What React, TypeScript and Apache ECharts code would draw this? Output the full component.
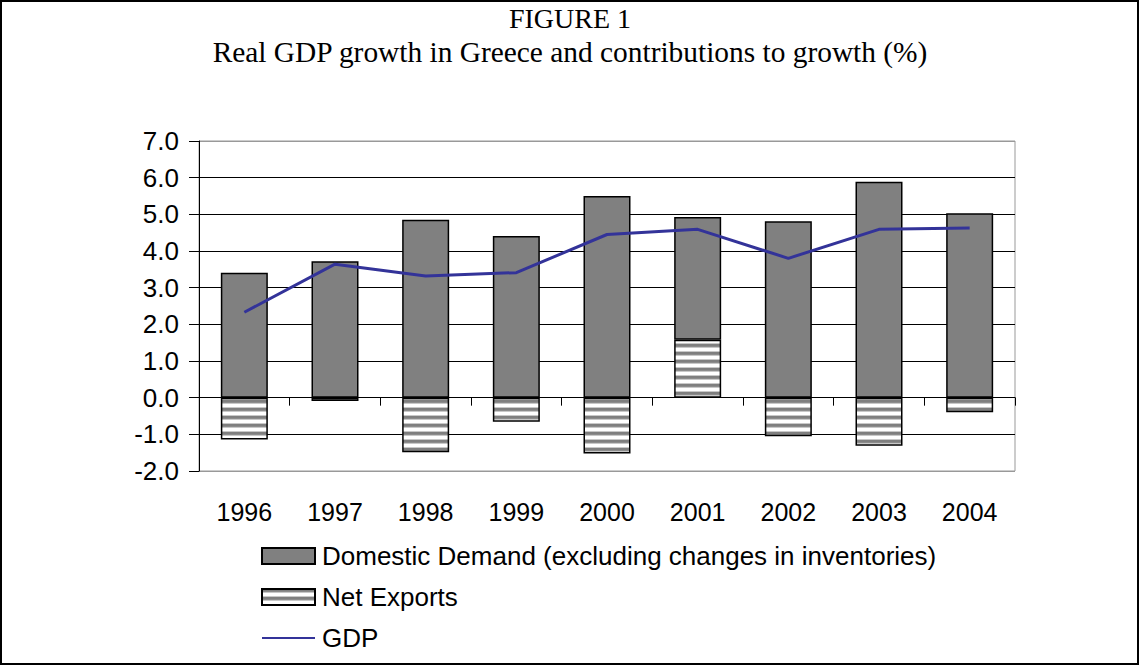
import React, { useEffect, useRef } from "react";
import * as echarts from "echarts";

const years = ["1996", "1997", "1998", "1999", "2000", "2001", "2002", "2003", "2004"];
const domesticDemand = [3.41, 3.72, 4.85, 4.41, 5.5, 3.35, 4.81, 5.89, 5.03];
const netExports = [-1.14, -0.09, -1.49, -0.66, -1.52, 1.58, -1.05, -1.31, -0.4];
const gdp = [2.33, 3.64, 3.32, 3.41, 4.45, 4.59, 3.8, 4.59, 4.63];
const yTicks = { min: -2, max: 7, interval: 1 };

const DD_NAME = "Domestic Demand (excluding changes in inventories)";
const NX_NAME = "Net Exports";
const GDP_NAME = "GDP";

function makeStripes(): string {
  const c = document.createElement("canvas");
  c.width = 8;
  c.height = 8;
  const ctx = c.getContext("2d")!;
  const rows = ["#7f7f7f", "#7f7f7f", "#8c8c8c", "#c8c8c8", "#ffffff", "#ffffff", "#ffffff", "#c8c8c8"];
  rows.forEach((col, i) => {
    ctx.fillStyle = col;
    ctx.fillRect(0, i, 8, 1);
  });
  return c.toDataURL();
}

export default function App() {
  const ref = useRef<HTMLDivElement>(null);
  useEffect(() => {
    document.body.style.margin = "0";
    const chart = echarts.init(ref.current!, null, { renderer: "svg" });
    const stripe = makeStripes();
    const font = "'Liberation Sans', Arial, sans-serif";
    const serif = "'Liberation Serif', 'Times New Roman', serif";
    const splitColors = ["#999999", "#000", "#000", "#000", "#000", "#000", "#000", "#000", "#000", "#999999"];
    chart.setOption({
      animation: false,
      backgroundColor: "#ffffff",
      title: [
        {
          text: "FIGURE 1",
          left: "center",
          top: -1,
          textStyle: { fontFamily: serif, fontSize: 28, fontWeight: "normal", color: "#000" },
        },
        {
          text: "Real GDP growth in Greece and contributions to growth (%)",
          left: "center",
          top: 32,
          textStyle: { fontFamily: serif, fontSize: 29.4, fontWeight: "normal", color: "#000" },
        },
      ],
      graphic: [
        {
          type: "rect",
          shape: { x: 1, y: 1, width: 1137, height: 663 },
          style: { fill: "none", stroke: "#000", lineWidth: 2 },
          silent: true,
        },
      ],
      legend: {
        orient: "vertical",
        left: 256,
        top: 538,
        itemWidth: 53,
        itemHeight: 16,
        itemGap: 15,
        textStyle: { fontFamily: font, fontSize: 26, color: "#000", padding: [0, 0, 0, 2] },
        data: [
          { name: DD_NAME, icon: "rect" },
          { name: NX_NAME, icon: "rect" },
          { name: GDP_NAME, itemStyle: { opacity: 0 } },
        ],
      },
      grid: {
        left: 199,
        right: 125,
        top: 141,
        bottom: 195,
        show: true,
        borderColor: "#999999",
        borderWidth: 1,
        backgroundColor: "#ffffff",
      },
      xAxis: [
        {
          type: "category",
          data: years,
          axisLine: { onZero: true, lineStyle: { color: "#000", width: 1 } },
          axisTick: { show: true, length: 8, alignWithLabel: false, lineStyle: { color: "#000" } },
          axisLabel: { show: false },
          splitLine: { show: false },
        },
        {
          type: "category",
          data: years,
          position: "bottom",
          axisLine: { show: false, onZero: false },
          axisTick: { show: false },
          axisLabel: { show: true, margin: 28, fontFamily: font, fontSize: 25, color: "#000" },
          splitLine: { show: false },
        },
      ],
      yAxis: {
        type: "value",
        min: yTicks.min,
        max: yTicks.max,
        interval: yTicks.interval,
        axisLine: { show: true, lineStyle: { color: "#000", width: 1 } },
        axisTick: { show: true, inside: false, length: 10, lineStyle: { color: "#000" } },
        axisLabel: {
          margin: 20,
          fontFamily: font,
          fontSize: 26,
          color: "#000",
          formatter: (v: number) => v.toFixed(1),
        },
        splitLine: { show: true, lineStyle: { color: splitColors, width: 1 } },
      },
      series: [
        {
          name: NX_NAME,
          type: "bar",
          stack: "contrib",
          data: netExports,
          barWidth: 47,
          itemStyle: {
            color: { image: stripe, repeat: "repeat" },
            borderColor: "#000",
            borderWidth: 1.5,
          },
        },
        {
          name: DD_NAME,
          type: "bar",
          stack: "contrib",
          data: domesticDemand,
          barWidth: 47,
          itemStyle: { color: "#808080", borderColor: "#000", borderWidth: 1.5 },
        },
        {
          name: GDP_NAME,
          type: "line",
          data: gdp,
          symbol: "none",
          showSymbol: false,
          lineStyle: { color: "#333399", width: 3 },
          itemStyle: { color: "#333399" },
          z: 5,
        },
      ],
    });
    return () => chart.dispose();
  }, []);
  return <div ref={ref} style={{ width: 1140, height: 666 }} />;
}
